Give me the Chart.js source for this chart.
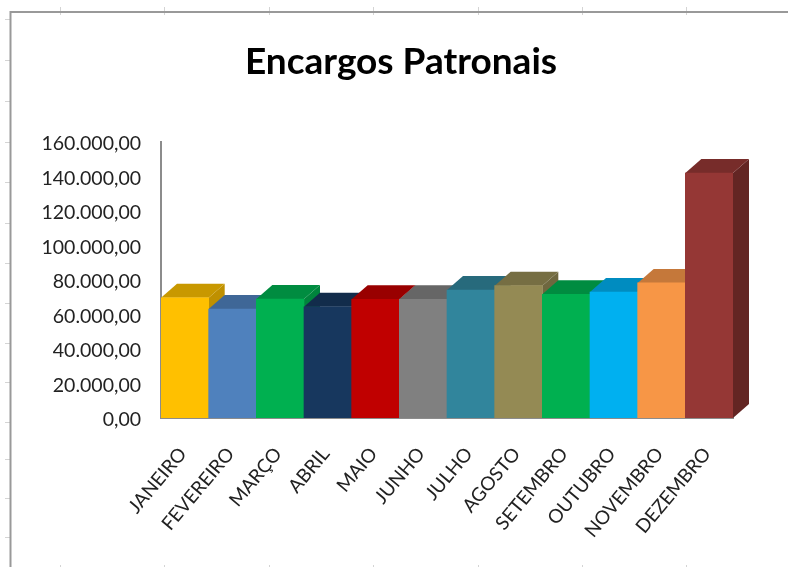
<!DOCTYPE html>
<html><head><meta charset="utf-8">
<script src="https://cdn.jsdelivr.net/npm/chart.js@4"></script>
<style>html,body{margin:0;padding:0;background:#fff}#w{width:788px;height:567px;position:relative}</style>
</head><body><div id="w"><canvas id="c" width="788" height="567"></canvas></div>
<script>
const categories=["JANEIRO","FEVEREIRO","MARÇO","ABRIL","MAIO","JUNHO","JULHO","AGOSTO","SETEMBRO","OUTUBRO","NOVEMBRO","DEZEMBRO"];
const values=[69700,63200,69000,64500,68800,68800,74200,76700,71700,73000,78300,142000];
const frontColors=["#FFC000","#4F81BD","#00B050","#17375E","#C00000","#808080","#31859C","#948A54","#00B050","#00B0F0","#F79646","#953735"];
const topColors=["#C89800","#3F6797","#008C40","#122C4B","#990000","#666666","#276A7C","#766E43","#008C40","#008CC0","#C5783A","#772C2A"];
const sideColors=["#BF9000","#3B618E","#00843C","#112946","#900000","#606060","#256475","#6F673F","#00843C","#0084B4","#B97036","#632523"];
const titleText="Encargos Patronais";
const depth={x:16,y:14};
const frameTop=[60,164,269,373,478,582,686];
const frameLeft=[19,60,101,142,182,223,263,303,343,382,422,459,498,537];
const frame={id:"frame",beforeDraw(ch){
  const c=ch.ctx;c.save();
  c.strokeStyle="#d4d4d4";c.lineWidth=1;
  frameTop.forEach(x=>{c.beginPath();c.moveTo(x+.5,7);c.lineTo(x+.5,15);c.stroke();c.beginPath();c.moveTo(x+.5,565);c.lineTo(x+.5,567);c.stroke();});
  frameLeft.forEach(y=>{c.beginPath();c.moveTo(5,y+.5);c.lineTo(11,y+.5);c.stroke();});
  c.strokeStyle="#999";c.lineWidth=2;c.beginPath();c.moveTo(10.5,ch.height);c.lineTo(10.5,12);c.lineTo(ch.width,12);c.stroke();
  c.restore();
}};
const box3d={id:"box3d",beforeDatasetsDraw(ch){
  const c=ch.ctx,m=ch.getDatasetMeta(0).data;
  m.forEach((b,i)=>{
    const l=b.x-b.width/2,r=b.x+b.width/2,t=b.y,g=b.base;
    c.fillStyle=sideColors[i];c.beginPath();c.moveTo(r,t);c.lineTo(r+depth.x,t-depth.y);c.lineTo(r+depth.x,g-depth.y);c.lineTo(r,g);c.closePath();c.fill();
    c.fillStyle=topColors[i];c.beginPath();c.moveTo(l,t);c.lineTo(l+depth.x,t-depth.y);c.lineTo(r+depth.x,t-depth.y);c.lineTo(r,t);c.closePath();c.fill();
  });
}};
new Chart(document.getElementById("c"),{
  type:"bar",
  data:{labels:categories,datasets:[{data:values,backgroundColor:frontColors,barPercentage:1,categoryPercentage:1}]},
  plugins:[frame,box3d],
  options:{
    responsive:false,animation:false,
    layout:{padding:{left:14,right:0,top:0,bottom:0}},
    plugins:{legend:{display:false},tooltip:{enabled:false},
      title:{display:true,text:titleText,color:"#000",font:{family:"Lato",size:37,weight:"bold"},padding:{top:40,bottom:57.6}}},
    scales:{
      x:{grid:{display:false,drawTicks:false},border:{color:"#8c8c8c",width:2},
        ticks:{color:"#222",font:{family:"Lato",size:19},minRotation:50,maxRotation:50,autoSkip:false,padding:25,labelOffset:-2},
        afterFit(s){s.height=149}},
      y:{min:0,max:160000,grid:{display:false,drawTicks:true,tickLength:6,tickColor:"#8c8c8c"},border:{color:"#8c8c8c",width:2},
        ticks:{stepSize:20000,color:"#222",font:{family:"Lato",size:19.5},padding:14,labelOffset:2,
          callback:v=>v.toLocaleString("pt-BR",{minimumFractionDigits:2,maximumFractionDigits:2})},
        afterFit(s){s.width=147}},
      yr:{position:"right",min:0,max:160000,grid:{display:false,drawTicks:false},border:{display:false},ticks:{display:false},afterFit(s){s.width=55}}
    }
  }
});
</script></body></html>
